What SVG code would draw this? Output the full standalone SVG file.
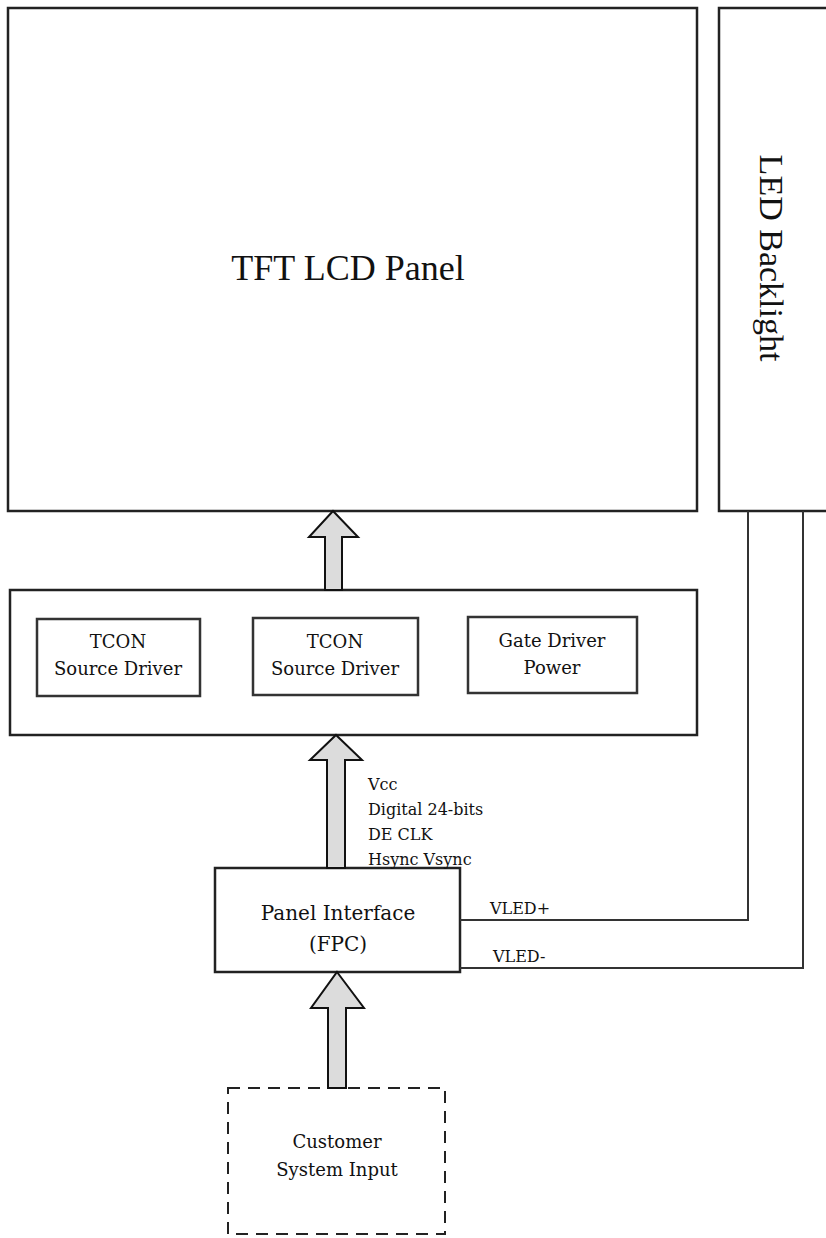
<svg xmlns="http://www.w3.org/2000/svg" width="826" height="1238" viewBox="0 0 826 1238">
<style>
.box{fill:#fff;stroke:#222;stroke-width:2.5}
.ibox{fill:#fff;stroke:#333;stroke-width:2.5}
.dash{fill:#fff;stroke:#222;stroke-width:2;stroke-dasharray:12,8}
.arrow{fill:#dcdcdc;stroke:#111;stroke-width:2;stroke-linejoin:miter}
.wire{fill:none;stroke:#333;stroke-width:2}
text{font-family:"DejaVu Serif","Liberation Serif",serif;fill:#111}
.big{font-family:"Liberation Serif","Times New Roman",serif}
.c{text-anchor:middle}
</style>
<rect width="826" height="1238" fill="#fff"/>
<g id="tft-panel">
<rect class="box" x="8" y="8" width="689" height="503"/>
<text class="c big" x="348" y="280" font-size="36">TFT LCD Panel</text>
</g>
<g id="led-backlight">
<rect class="box" x="719" y="8" width="120" height="503"/>
<text class="c big" font-size="34" transform="translate(760,258) rotate(90)">LED Backlight</text>
</g>
<g id="driver-board">
<rect class="box" x="10" y="590" width="687" height="145"/>
</g>
<g id="tcon-1">
<rect class="ibox" x="37" y="619" width="163" height="77"/>
<text class="c" x="118" y="648" font-size="18">TCON</text>
<text class="c" x="118" y="675" font-size="18">Source Driver</text>
</g>
<g id="tcon-2">
<rect class="ibox" x="253" y="618" width="165" height="77"/>
<text class="c" x="335" y="648" font-size="18">TCON</text>
<text class="c" x="335" y="675" font-size="18">Source Driver</text>
</g>
<g id="gate-driver">
<rect class="ibox" x="468" y="617" width="169" height="76"/>
<text class="c" x="552" y="647" font-size="18">Gate Driver</text>
<text class="c" x="552" y="674" font-size="18">Power</text>
</g>
<g id="panel-interface">
<rect class="box" x="215" y="868" width="245" height="104"/>
<text class="c" x="338" y="920" font-size="20">Panel Interface</text>
<text class="c" x="338" y="951" font-size="20">(FPC)</text>
</g>
<g id="customer-input">
<rect class="dash" x="228" y="1088" width="217" height="146"/>
<text class="c" x="337" y="1148" font-size="18">Customer</text>
<text class="c" x="337" y="1176" font-size="18">System Input</text>
</g>
<g id="connectors">
<polygon class="arrow" points="333,511 358,537 342,537 342,590 325,590 325,537 309,537"/>
<polygon class="arrow" points="336,735 362,760 345,760 345,868 327,868 327,760 310,760"/>
<polygon class="arrow" points="337,972 364,1008 346,1008 346,1088 328,1088 328,1008 311,1008"/>
<polyline class="wire" points="460,920 748,920 748,511"/>
<polyline class="wire" points="460,968 803,968 803,511"/>
<text x="368" y="790" font-size="16">Vcc</text>
<text x="368" y="815" font-size="16">Digital 24-bits</text>
<text x="368" y="840" font-size="16">DE CLK</text>
<text x="368" y="865" font-size="16">Hsync Vsync</text>
<text x="490" y="914" font-size="16">VLED+</text>
<text x="493" y="962" font-size="16">VLED-</text>
</g>
</svg>
